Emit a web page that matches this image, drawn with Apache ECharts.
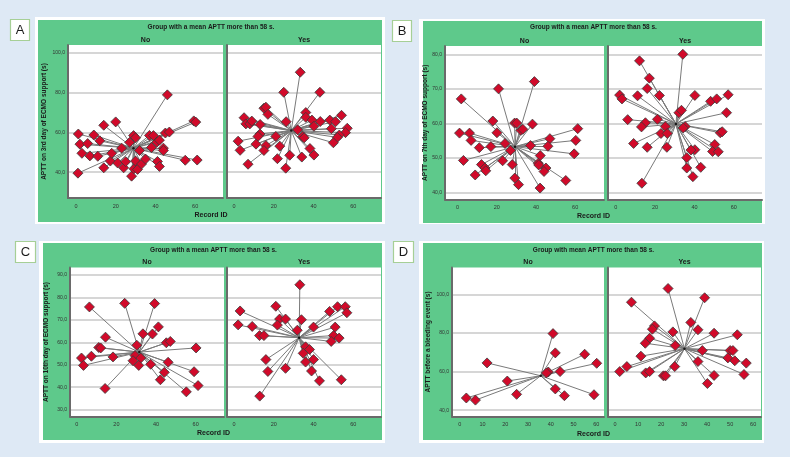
<!DOCTYPE html>
<html><head><meta charset="utf-8">
<script src="https://cdn.jsdelivr.net/npm/echarts@6/dist/echarts.min.js"></script>
<style>html,body{margin:0;padding:0;background:#dee9f5;}#c{width:790px;height:457px;}</style>
</head><body><div id="c"></div><script>
// ---- Data (Record ID, APTT) ----
const aNoX = [1.2,2,3,1,5.9,7,9,11,12,14,14,17.3,18,20,21,23,24,25,27,28,29,30,29.2,30,31,32,33,35,37,39,38,40.7,42,41,42,44,44,45,47,46,55,59.3,60.3,61];
const aNoY = [59.2,54.1,49.5,39.5,54.4,48.2,58.7,48,55.8,63.6,42.2,45.6,49.5,65.3,44.6,52.1,42.2,45.3,55,38,58.4,57.3,41.7,45.6,41.4,50.9,44.1,46.6,58.5,58.4,52.4,55.1,56.1,45.4,42.9,52.1,50.9,59.7,60.2,78.9,46,65.8,65.2,46.1];
const aYesX = [33.3,25,43.2,15,16,17,5,36.1,36.1,5.9,7.9,8.9,13.1,26.2,39.2,43.4,40.2,48.2,51.1,54.1,57,56.1,53,52,49,50,34.6,35.3,32,21,13,12,2,3,11,16,15,23,21.8,7,26,28,34.1,38.2,40.2];
const aYesY = [90.3,80.2,80.2,72.2,72.7,69.1,67.4,70,67.6,64.3,64.3,65.7,64,65.4,66.2,65.5,63.1,66.2,65.4,68.6,62.1,59.9,58.7,57.5,61.9,54.8,58,57.3,61.3,58,59.2,58,55.6,51,54.1,53.4,50.9,53.1,46.8,44,42,48.5,47.6,51.9,48.6];
const bNoX = [1.9,20.9,39.2,1,6.1,6.9,3,11.1,17,18,20.1,24.2,12.2,14,14.4,9,23,27,27.9,29.1,30.2,29.2,31.1,32.3,33.3,38.2,37.2,42.2,41.2,41.4,45.1,44.1,42.1,47.1,46.1,55.2,59.5,60.3,61.3];
const bNoY = [67.1,70,72.1,57.2,57.2,55.1,49.3,53,53.3,60.7,57.3,54.2,48.1,47.1,46.3,45.1,49.2,52.2,48.1,60.1,60.1,44.2,42.3,58,58.3,59.8,53.6,50.7,48.5,48,47.1,46.1,41.3,55.6,53.4,43.5,51.2,55.1,58.5];
const bYesX = [34.1,12.1,17.1,16,2,3.2,11.1,22.2,40.2,48.2,51.3,57.1,56.3,32.1,33.4,6.1,21.2,15.1,13.1,25.2,23,26.2,16,9.1,26,35.3,34.3,53.1,54.1,50.3,49.2,52.1,40.2,38.2,36.1,36.1,43.2,39.2,13.3];
const bYesY = [80,78.1,73.1,70.1,68.2,67.1,68,68.1,68.1,66.4,67.1,68.3,63.1,63.1,63.8,61.1,61.2,60.2,59,59.1,57.1,57.1,53.1,54.2,53.1,59.1,58.7,57.3,57.6,53.9,51.9,51.8,52.4,52.3,50.1,47.1,47.3,44.6,42.7];
const cNoX = [6.4,24.2,39.3,41.2,33.4,38.2,14.5,30.3,45.2,47.2,60.2,11.1,12.1,2.4,7.4,18.3,29.4,28.4,32.3,3.4,31.3,37.3,46.1,44.2,42.2,59.2,61.2,55.3,14.3];
const cNoY = [75.8,77.4,77.3,66.9,63.8,63.7,62.3,58.7,59.8,60.4,57.5,57.7,57.5,53,53.8,53.5,54.1,51.8,53,49.7,49.7,50.2,51.1,46.6,43.3,46.9,40.7,37.9,39.4];
const cYesX = [33.1,3,21,52.1,56,56.8,48.1,22.9,25.9,33.9,21.8,2,9.1,40,50.9,31.8,12.8,15,50.1,52.9,48.9,36,38,34.8,40,36,16,17,25.9,39,43,54,12.9];
const cYesY = [85.7,74,76.1,75.9,75.9,73.2,73.8,70.4,70.4,70.1,67.7,67.8,67.1,66.8,66.8,65.4,63,63,63,61.9,60.4,58,56.8,55.1,52.3,51.2,52.3,47,48.4,47.2,42.8,43.3,36];
const dNoX = [2.9,6.9,12,20.9,25,41,42,54.9,60.2,44.1,38.9,38.1,42,46,59];
const dNoY = [46.3,45.2,64.5,55.1,48.2,79.7,69.7,69,64.3,60,59.8,59.3,51,47.5,48];
const dYesX = [23,38.9,7.1,32.9,17.1,16.2,36,25.1,43,53.1,15,13.1,26.1,37.9,50,51.2,11.2,49,52,57,36,5.1,2,25.9,13.3,15,21,21.9,43,56,40.1];
const dYesY = [103.1,98.3,96,85.5,83.7,82,81.7,80.6,79.9,79.1,77.3,74.7,73.5,70.9,70.9,70.9,68,67.1,65.6,64.4,65.2,62.6,60,62.6,59.3,60,57.8,57.8,58,58.5,53.8];

const panelLetters = ['A','B','C','D'];
const panelHeaders = ['Group with a mean APTT more than 58 s.','Group with a mean APTT more than 58 s.','Group with a mean APTT more than 58 s.','Group with mean APTT more than 58 s.'];
const yTitles = ['APTT on 3rd day of ECMO support (s)','APTT on 7th day of ECMO support (s)','APTT on 10th day of ECMO support (s)','APTT before a bleeding event (s)'];
const facetNames = ['No','Yes'];
const xTitle = 'Record ID';

// ---- Layout ----
const FONT = '"Liberation Sans", Arial, sans-serif';
const panels = [
  {frame:[35,17,350,207], green:[38,20,344,202], label:[10,19,19,21], hdrY:27, facetY:40, recY:215,
   sub:[{data:[aNoX,aNoY], g:[68,45,155,153], x:[-4,74], ytGap:20},
        {data:[aYesX,aYesY], g:[227,45,154,153], x:[-3.6,74]}], y:[27,104], xs:4, ys:4},
  {frame:[419,19,346,205], green:[423,21,339,202], label:[392,20,19,21], hdrY:27, facetY:41, recY:216,
   sub:[{data:[bNoX,bNoY], g:[445,46,159,153.5], x:[-6.4,74.7], ytGap:13},
        {data:[bYesX,bYesY], g:[608,46,154,153.5], x:[-3.9,74.3]}], y:[38,82.4], xs:4, ys:4},
  {frame:[39,241,346,202], green:[43,243,339,197], label:[15,241,20,21], hdrY:250, facetY:262, recY:433,
   sub:[{data:[cNoX,cNoY], g:[70,267.5,154,149], x:[-3.4,74.3], ytGap:20},
        {data:[cYesX,cYesY], g:[227,267.5,154,149], x:[-3.6,74]}], y:[26.9,93.4], xs:4, ys:7},
  {frame:[419,241,345,202], green:[423,243,339,197], label:[393,241,20,21], hdrY:250, facetY:262, recY:434,
   sub:[{data:[dNoX,dNoY], g:[452,267.5,152,149], x:[-3.4,63.4], ytGap:20},
        {data:[dYesX,dYesY], g:[608,267.5,153,149], x:[-3.1,63.4]}], y:[36.7,114], xs:7, ys:4}
];

const grids = [], xAxes = [], yAxes = [], series = [], graphics = [];
const mean = a => a.reduce((s,v)=>s+v,0)/a.length;
const fmtY = v => v.toFixed(1).replace('.', ',');

panels.forEach((p, pi) => {
  graphics.push({type:'rect', z:-10, shape:{x:p.frame[0],y:p.frame[1],width:p.frame[2],height:p.frame[3]}, style:{fill:'#ffffff'}});
  graphics.push({type:'rect', z:-9, shape:{x:p.green[0],y:p.green[1],width:p.green[2],height:p.green[3]}, style:{fill:'#5ec98b'}});
  graphics.push({type:'rect', z:-9, shape:{x:p.label[0]+0.5,y:p.label[1]+0.5,width:p.label[2],height:p.label[3]}, style:{fill:'#ffffff', stroke:'#a6cf96', lineWidth:1.2}});
  graphics.push({type:'text', z:5, x:p.label[0]+p.label[2]/2+0.5, y:p.label[1]+p.label[3]/2+1, style:{text:panelLetters[pi], font:'13px '+FONT, fill:'#1a1a1a', align:'center', verticalAlign:'middle'}});
  const cxAll = p.green[0] + p.green[2]/2;
  graphics.push({type:'text', z:5, x:cxAll + 1, y:p.hdrY, style:{text:panelHeaders[pi], font:'bold 6.5px '+FONT, fill:'#1a1a1a', align:'center', verticalAlign:'middle'}});
  graphics.push({type:'text', z:5, x:cxAll + 1, y:p.recY, style:{text:xTitle, font:'bold 7px '+FONT, fill:'#1a1a1a', align:'center', verticalAlign:'middle'}});
  p.sub.forEach((s, si) => {
    const idx = grids.length;
    const [xs, ys] = s.data;
    graphics.push({type:'text', z:5, x:s.g[0]+s.g[2]/2, y:p.facetY, style:{text:facetNames[si], font:'bold 7px '+FONT, fill:'#1a1a1a', align:'center', verticalAlign:'middle'}});
    grids.push({left:s.g[0], top:s.g[1], width:s.g[2], height:s.g[3], show:true, backgroundColor:'#ffffff', borderWidth:0, containLabel:false});
    xAxes.push({type:'value', gridIndex:idx, min:s.x[0], max:s.x[1], splitNumber:p.xs,
      axisLine:{show:true, onZero:false, lineStyle:{color:'#6a6a6a', width:2}},
      axisTick:{show:false},
      axisLabel:{fontSize:5.5, color:'#333', margin:5, fontFamily:FONT, showMinLabel:false, showMaxLabel:false},
      splitLine:{show:false}});
    yAxes.push({type:'value', gridIndex:idx, min:p.y[0], max:p.y[1], splitNumber:p.ys,
      name: si===0 ? yTitles[pi] : '', nameLocation:'middle', nameGap: s.ytGap || 20, nameRotate:90,
      nameTextStyle:{fontSize:6.5, fontWeight:'bold', color:'#1a1a1a', fontFamily:FONT},
      axisLine:{show:true, onZero:false, lineStyle:{color:'#6a6a6a', width:2}},
      axisTick:{show:false},
      axisLabel:{show: si===0, fontSize:5, color:'#333', margin:3, fontFamily:FONT, formatter:fmtY, showMinLabel:false, showMaxLabel:false},
      splitLine:{show:true, showMinLine:false, showMaxLine:false, lineStyle:{color:'#d6d6d6', width:2}}});
    const cx = mean(xs), cy = mean(ys);
    series.push({type:'lines', coordinateSystem:'cartesian2d', xAxisIndex:idx, yAxisIndex:idx, silent:true, z:2,
      lineStyle:{color:'#7a7a7a', width:1, opacity:1, curveness:0},
      data: xs.map((x,k)=>({coords:[[cx,cy],[x,ys[k]]]}))});
    series.push({type:'scatter', xAxisIndex:idx, yAxisIndex:idx, silent:true, z:3, symbol:'diamond', symbolSize:[10,10],
      itemStyle:{color:'#d10a2a', borderColor:'#3a3a3a', borderWidth:0.8, opacity:1},
      data: xs.map((x,k)=>[x, ys[k]])});
    series.push({type:'scatter', xAxisIndex:idx, yAxisIndex:idx, silent:true, z:4, symbol:'circle', symbolSize:2.5,
      itemStyle:{color:'#000'}, data:[[cx,cy]]});
  });
});

const chart = echarts.init(document.getElementById('c'), null, {renderer:'canvas'});
chart.setOption({
  animation:false,
  textStyle:{fontFamily:FONT},
  grid:grids, xAxis:xAxes, yAxis:yAxes, series:series, graphic:{elements:graphics}
});
</script></body></html>
